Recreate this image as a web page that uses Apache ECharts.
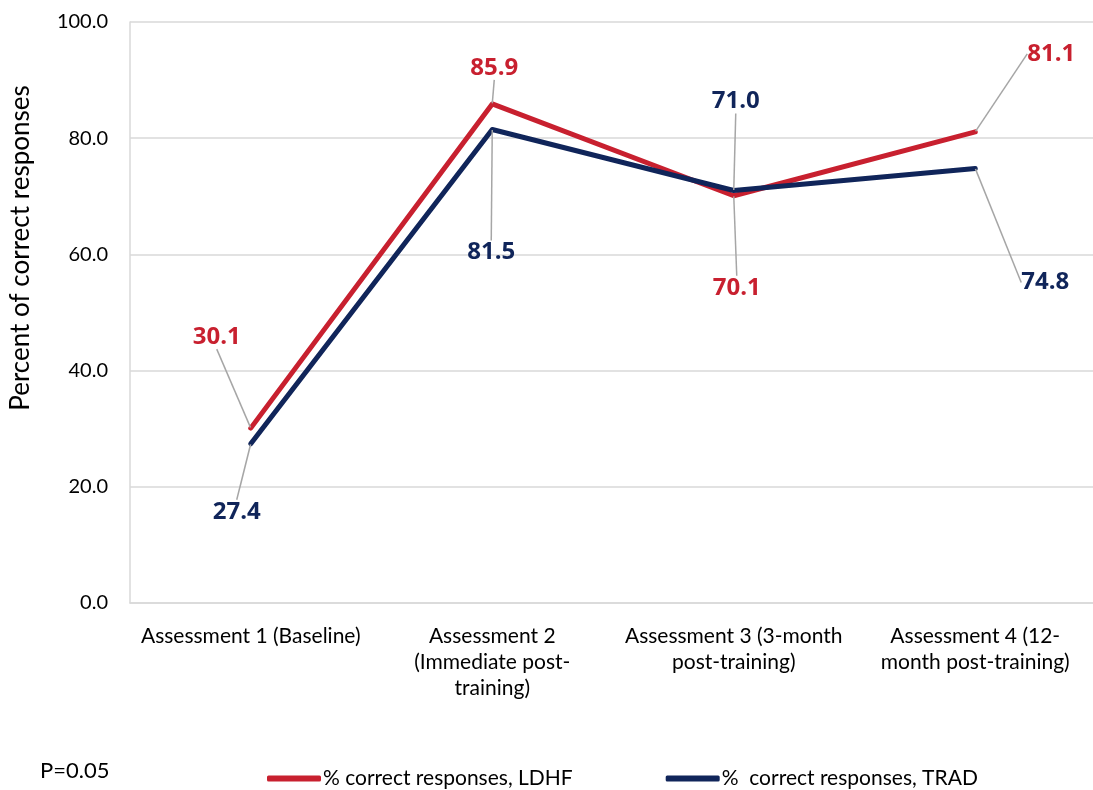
<!DOCTYPE html>
<html>
<head>
<meta charset="utf-8">
<script src="https://cdn.jsdelivr.net/npm/echarts@6/dist/echarts.min.js"></script>
<style>
  html, body { margin: 0; padding: 0; background: #fff; }
  #chart { width: 1093px; height: 790px; }
</style>
</head>
<body>
<div id="chart"></div>
<script>
// data
var categories = [
    'Assessment 1 (Baseline)',
    'Assessment 2\n(Immediate post-\ntraining)',
    'Assessment 3 (3-month\npost-training)',
    'Assessment 4 (12-\nmonth post-training)'
]
var ldhfValues = [30.1, 85.9, 70.1, 81.1]
var tradValues = [27.4, 81.5, 71.0, 74.8]
var seriesNames = ['% correct responses, LDHF', '%  correct responses, TRAD']

// label offsets (px) from each point, like the moved labels in the original
var ldhfOffsets = [[-34, -91], [2, -36], [3, 92], [76, -78]]
var tradOffsets = [[-14, 68], [-1, 123], [2, -89], [70, 114]]

var red = '#C8202F'
var navy = '#10255A'
var font = 'Lato, "Open Sans", sans-serif'

var myChart = echarts.init(document.getElementById('chart'))

function makeSeries(name, data, color, offsets) {
    return {
        name: name,
        type: 'line',
        data: data,
        symbol: 'circle',
        symbolSize: 1,
        itemStyle: { color: color },
        lineStyle: { color: color, width: 5, cap: 'round', join: 'round' },
        label: {
            show: true,
            position: 'inside',
            color: color,
            fontFamily: '"Open Sans", sans-serif',
            fontWeight: 'bold',
            fontSize: 24,
            formatter: function (p) { return p.value.toFixed(1) }
        },
        labelLine: {
            show: true,
            lineStyle: { color: '#A6A6A6', width: 1.5 }
        },
        labelLayout: function (params) {
            var o = offsets[params.dataIndex]
            return { dx: o[0], dy: o[1] }
        },
        emphasis: { disabled: true },
        animation: false
    }
}

var option = {
    backgroundColor: '#fff',
    textStyle: { fontFamily: font },
    grid: {
        left: 130,
        top: 22,
        width: 966,
        height: 581,
        outerBoundsMode: 'none'
    },
    legend: {
        left: 262,
        top: 763,
        itemWidth: 54,
        itemHeight: 6,
        itemGap: 93,
        icon: 'roundRect',
        textStyle: { fontFamily: font, fontSize: 21, color: '#000', padding: [0, 0, 0, -3] },
        data: seriesNames
    },
    graphic: [
        {
            type: 'text',
            left: 40,
            top: 760,
            style: { text: 'P=0.05', font: '22px ' + font, fill: '#000' }
        },
        {
            type: 'text',
            x: 8,
            y: 248,
            rotation: Math.PI / 2,
            style: {
                text: 'Percent of correct responses',
                font: '26px ' + font,
                fill: '#000',
                align: 'center',
                verticalAlign: 'top'
            }
        }
    ],
    xAxis: {
        type: 'category',
        data: categories,
        boundaryGap: true,
        axisLine: { lineStyle: { color: '#D9D9D9', width: 1.5 } },
        axisTick: { show: false },
        axisLabel: {
            interval: 0,
            margin: 20,
            color: '#000',
            fontFamily: font,
            fontSize: 21,
            lineHeight: 26,
            align: 'center'
        }
    },
    yAxis: {
        type: 'value',
        min: 0,
        max: 100,
        interval: 20,
        axisLine: { show: true, lineStyle: { color: '#D9D9D9', width: 1.5 } },
        axisTick: { show: false },
        splitLine: { lineStyle: { color: '#D9D9D9', width: 1.5 } },
        axisLabel: {
            margin: 22,
            color: '#000',
            fontFamily: font,
            fontSize: 20,
            formatter: function (v) { return v.toFixed(1) }
        }
    },
    series: [
        makeSeries(seriesNames[0], ldhfValues, red, ldhfOffsets),
        makeSeries(seriesNames[1], tradValues, navy, tradOffsets)
    ]
}

myChart.setOption(option)
</script>
</body>
</html>
